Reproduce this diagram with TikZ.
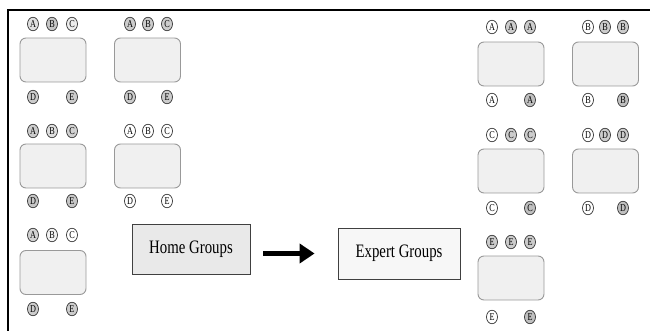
\documentclass[tikz,border=0pt]{standalone}
\usepackage{fontspec}
\setmainfont{Liberation Serif}[FakeStretch=0.78]
\usepackage{tikz}
\usetikzlibrary{positioning,arrows.meta,shapes.geometric}

\begin{document}
\begin{tikzpicture}[
  x=1pt, y=-1pt,
  tbl/.style={draw=gray!80, fill=gray!12, rounded corners=6pt, line width=0.9pt, minimum width=66pt, minimum height=44pt},
  seat/.style={draw=black!80, ellipse, line width=0.7pt, inner sep=0pt, minimum width=11pt, minimum height=13.5pt, font=\fontsize{10.5}{10.5}\selectfont},
  grp/.style={draw=black!75, line width=0.8pt, minimum width=118pt, minimum height=50pt, font=\fontsize{19}{19}\selectfont},
  arr/.style={-{Triangle[length=15pt,width=19pt]}, line width=5pt}
]
  \useasboundingbox (0,0) rectangle (650,331);
  \draw[line width=1.6pt] (8,331) -- (8,10) -- (650,10);

  % Home groups
  \node[tbl] (t1) at (53,60) {};
  \node[seat, fill=gray!25] (t1a) at (33,24) {A}; \node[seat, fill=gray!45] (t1b) at (52,24) {B}; \node[seat, fill=gray!15] (t1c) at (72,24) {C};
  \node[seat, fill=gray!40] (t1d) at (33,97) {D}; \node[seat, fill=gray!40] (t1e) at (72,97) {E};

  \node[tbl] (t2) at (147.5,60) {};
  \node[seat, fill=gray!40] (t2a) at (130,24) {A}; \node[seat, fill=gray!40] (t2b) at (148,24) {B}; \node[seat, fill=gray!40] (t2c) at (167,24) {C};
  \node[seat, fill=gray!40] (t2d) at (130,97) {D}; \node[seat, fill=gray!40] (t2e) at (167,97) {E};

  \node[tbl] (t3) at (53,166) {};
  \node[seat, fill=gray!40] (t3a) at (33,131) {A}; \node[seat, fill=gray!25] (t3b) at (52,131) {B}; \node[seat, fill=gray!35] (t3c) at (72,131) {C};
  \node[seat, fill=gray!45] (t3d) at (33,201) {D}; \node[seat, fill=gray!45] (t3e) at (72,201) {E};

  \node[tbl] (t4) at (147.5,166) {};
  \node[seat, fill=white] (t4a) at (130,131) {A}; \node[seat, fill=white] (t4b) at (148,131) {B}; \node[seat, fill=white] (t4c) at (167,131) {C};
  \node[seat, fill=white] (t4d) at (130,201) {D}; \node[seat, fill=white] (t4e) at (167,201) {E};

  \node[tbl] (t5) at (53,272.5) {};
  \node[seat, fill=gray!35] (t5a) at (33,235) {A}; \node[seat, fill=gray!10] (t5b) at (52,235) {B}; \node[seat, fill=white] (t5c) at (72,235) {C};
  \node[seat, fill=gray!40] (t5d) at (33,309) {D}; \node[seat, fill=gray!40] (t5e) at (72,309) {E};

  % Expert groups
  \node[tbl] (xa) at (511,64) {};
  \node[seat, fill=white] (xa1) at (492,27) {A}; \node[seat, fill=gray!40] (xa2) at (511,27) {A}; \node[seat, fill=gray!40] (xa3) at (530,27) {A};
  \node[seat, fill=white] (xa4) at (492,100) {A}; \node[seat, fill=gray!50] (xa5) at (530,100) {A};

  \node[tbl] (xb) at (605.5,64) {};
  \node[seat, fill=white] (xb1) at (588,27) {B}; \node[seat, fill=gray!40] (xb2) at (605,27) {B}; \node[seat, fill=gray!40] (xb3) at (623,27) {B};
  \node[seat, fill=white] (xb4) at (588,100) {B}; \node[seat, fill=gray!50] (xb5) at (623,100) {B};

  \node[tbl] (xc) at (511,171) {};
  \node[seat, fill=white] (xc1) at (492,135) {C}; \node[seat, fill=gray!40] (xc2) at (511,135) {C}; \node[seat, fill=gray!40] (xc3) at (530,135) {C};
  \node[seat, fill=white] (xc4) at (492,208) {C}; \node[seat, fill=gray!50] (xc5) at (530,208) {C};

  \node[tbl] (xd) at (605.5,171) {};
  \node[seat, fill=white] (xd1) at (588,135) {D}; \node[seat, fill=gray!40] (xd2) at (605,135) {D}; \node[seat, fill=gray!40] (xd3) at (623,135) {D};
  \node[seat, fill=white] (xd4) at (588,208) {D}; \node[seat, fill=gray!50] (xd5) at (623,208) {D};

  \node[tbl] (xe) at (511,278) {};
  \node[seat, fill=gray!40] (xe1) at (492,242) {E}; \node[seat, fill=gray!40] (xe2) at (511,242) {E}; \node[seat, fill=gray!40] (xe3) at (530,242) {E};
  \node[seat, fill=white] (xe4) at (492,317) {E}; \node[seat, fill=gray!50] (xe5) at (530,317) {E};

  % Labels
  \node[grp, fill=gray!17] (hg) at (191,249) {Home Groups};
  \node[grp, fill=gray!6, minimum width=122pt, minimum height=51pt] (eg) at (399,253.5) {Expert Groups};
  \draw[arr, shorten <=13pt, shorten >=23pt] (hg.east |- eg.west) -- (eg.west);
\end{tikzpicture}
\end{document}
